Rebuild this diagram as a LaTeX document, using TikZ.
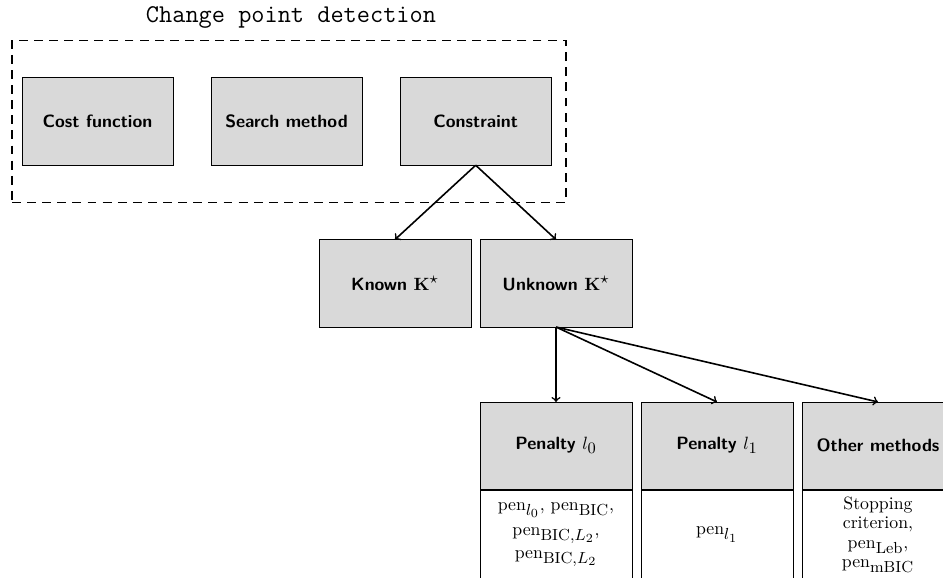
\documentclass[tikz,border=0pt]{standalone}
\DeclareMathSizes{10}{10}{9}{7}
\begin{document}
\begin{tikzpicture}[x=0.5625pt,y=-0.5625pt,
  box/.style={draw=black,fill=gray!30,line width=0.5pt,inner sep=0pt,outer sep=0pt,
    font=\sffamily\bfseries,align=center,minimum width=84.9pt,minimum height=49.2pt},
  wbox/.style={box,minimum width=85.5pt},
  sub/.style={draw=black,fill=white,line width=0.5pt,inner sep=0pt,outer sep=0pt,
    align=center,font=\normalsize,minimum width=85.5pt,minimum height=50pt},
  frame/.style={draw=black,dash pattern=on 5pt off 3.5pt,line width=0.8pt,inner sep=0pt,outer sep=0pt,
    minimum width=311.6pt,minimum height=91.1pt},
  conn/.style={->,line width=0.9pt}
]
\useasboundingbox (0,0) rectangle (943,578);
\node[font=\ttfamily\Large] (title) at (291,17) {Change point detection};
\node[frame] (frm) at (289,121.3) {};
\node[box] (cost) at (97.5,121.5) {Cost function};
\node[box] (search) at (286.5,121.5) {Search method};
\node[box] (constr) at (475.7,121.5) {Constraint};
\node[wbox] (known) at (395,283.3) {Known $\mathbf{K}^\star$};
\node[wbox] (unknown) at (556,283.3) {Unknown $\mathbf{K}^\star$};
\node[sub] (l0sub) at (556,534.5) {$\mathrm{pen}_{l_0}$, $\mathrm{pen}_{\mathrm{BIC}}$,\\[2pt]$\mathrm{pen}_{\mathrm{BIC},L_2}$,\\[1pt]$\mathrm{pen}_{\mathrm{BIC},L_2}$};
\node[sub] (l1sub) at (717,534.5) {$\mathrm{pen}_{l_1}$};
\node[sub] (othsub) at (878,534.5) {Stopping\\[-1pt]criterion,\\[-1pt]$\mathrm{pen}_{\mathrm{Leb}}$,\\[-1pt]$\mathrm{pen}_{\mathrm{mBIC}}$};
\node[wbox] (pl0) at (556,445.7) {Penalty $l_0$};
\node[wbox] (pl1) at (717,445.7) {Penalty $l_1$};
\node[wbox] (oth) at (878,445.7) {Other methods};
\draw[conn] (constr.south) -- (known.north);
\draw[conn] (constr.south) -- (unknown.north);
\draw[conn] (unknown.south) -- (pl0.north);
\draw[conn] (unknown.south) -- (pl1.north);
\draw[conn] (unknown.south) -- (oth.north);
\end{tikzpicture}
\end{document}
